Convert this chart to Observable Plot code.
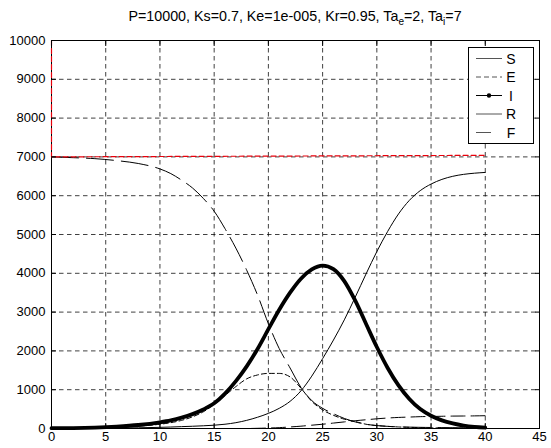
<!DOCTYPE html>
<html>
<head>
<meta charset="utf-8">
<script src="https://cdn.jsdelivr.net/npm/d3@7"></script>
<script src="https://cdn.jsdelivr.net/npm/@observablehq/plot@0.6"></script>
<style>
  html, body { margin: 0; padding: 0; background: #fff; }
  #wrap { position: relative; width: 551px; height: 448px; font-family: "Liberation Sans", Arial, sans-serif; }
  #title { position: absolute; left: 0; width: 590px; top: 9px; text-align: center; font-size: 14.3px; line-height: 14px; color: #000; white-space: nowrap; }
  #title sub { font-size: 10px; vertical-align: -4px; line-height: 0; }
</style>
</head>
<body>
<div id="wrap">
  <div id="title">P=10000, Ks=0.7, Ke=1e-005, Kr=0.95, Ta<sub>e</sub>=2, Ta<sub>i</sub>=7</div>
</div>
<script>
// time samples
const t = [0,2,4,6,8,10,11,12,13,14,15,16,17,18,19,20,21,22,23,24,25,26,27,28,29,30,31,32,33,34,35,36,37,38,39,40];
// series values
const S = [7000,6980,6955,6905,6830,6690,6570,6400,6200,5930,5600,5150,4650,4080,3440,2700,2060,1560,1060,720,520,380,260,170,110,75,55,42,35,30,26,23,20,18,16,15];
const E = [0,5,15,30,60,110,150,210,300,430,620,850,1080,1280,1380,1420,1420,1330,1040,700,480,340,240,180,110,75,55,40,30,22,16,12,9,7,5,4];
const I = [8,12,25,50,90,160,210,280,370,490,650,900,1220,1600,2050,2560,3060,3500,3860,4100,4200,4110,3800,3300,2700,2100,1560,1110,760,500,330,210,130,75,40,20];
const R = [0,2,5,10,18,30,38,48,58,70,85,110,150,210,290,390,520,700,970,1350,1800,2280,2800,3380,3980,4560,5080,5530,5880,6130,6300,6420,6500,6550,6580,6600];
const F = [0,0,0,0,0,0,0,0,0,0,0,0,0,0,5,12,22,40,60,85,110,140,170,200,225,250,270,285,295,305,310,315,320,322,325,330];
// total line (red dashed)
const tN = [0,0,40];
const N = [10000,7000,7040];
// ticks
const xTicks = [0,5,10,15,20,25,30,35,40,45];
const yTicks = [0,1000,2000,3000,4000,5000,6000,7000,8000,9000,10000];
const legendNames = ["S","E","I","R","F"];

const rows = (vals) => t.map((tt, i) => ({t: tt, v: vals[i]}));
const redRows = tN.map((tt, i) => ({t: tt, v: N[i]}));

const gridStyle = {stroke: "#000", strokeOpacity: 0.75, strokeWidth: 1, strokeDasharray: "4.5,3.5"};
const noText = () => "";
const fmt = d3.format("d");

const plot = Plot.plot({
  width: 551,
  height: 448,
  marginLeft: 51,
  marginRight: 12,
  marginTop: 40,
  marginBottom: 20,
  style: {fontFamily: '"Liberation Sans", Arial, sans-serif', fontSize: "13px", background: "transparent", color: "#000"},
  x: {domain: [0, 45]},
  y: {domain: [0, 10000]},
  marks: [
    Plot.gridX(xTicks.filter(d => d > 0 && d < 45), gridStyle),
    Plot.gridY(yTicks.filter(d => d > 0 && d < 10000), gridStyle),
    Plot.line(rows(S), {x: "t", y: "v", stroke: "#000", strokeWidth: 1, strokeDasharray: "27,8", curve: "monotone-x"}),
    Plot.line(rows(E), {x: "t", y: "v", stroke: "#000", strokeWidth: 1, strokeDasharray: "5,3", curve: "monotone-x"}),
    Plot.line(rows(R), {x: "t", y: "v", stroke: "#000", strokeWidth: 1, curve: "monotone-x"}),
    Plot.line(rows(F), {x: "t", y: "v", stroke: "#000", strokeWidth: 1, strokeDasharray: "14,6", curve: "monotone-x"}),
    Plot.line(rows(I), {x: "t", y: "v", stroke: "#000", strokeWidth: 3.8, curve: "monotone-x"}),
    Plot.frame({stroke: "#000", strokeWidth: 1}),
    Plot.line(redRows, {x: "t", y: "v", stroke: "#e8000b", strokeWidth: 1.2, strokeDasharray: "5,3"}),
    // tick labels
    Plot.axisX(xTicks, {anchor: "bottom", tickSize: 0, tickPadding: 3, label: null, tickFormat: fmt}),
    Plot.axisY(yTicks, {anchor: "left", tickSize: 0, tickPadding: 6, label: null, tickFormat: fmt}),
    // inward tick marks
    Plot.axisX(xTicks, {anchor: "bottom", tickSize: 5, dy: -5, tickFormat: noText, label: null}),
    Plot.axisX(xTicks, {anchor: "top", tickSize: 5, dy: 5, tickFormat: noText, label: null}),
    Plot.axisY(yTicks, {anchor: "left", tickSize: 5, dx: 5, tickFormat: noText, label: null}),
    Plot.axisY(yTicks, {anchor: "right", tickSize: 5, dx: -5, tickFormat: noText, label: null})
  ]
});

document.getElementById("wrap").appendChild(plot);

// legend box (layout only)
const svg = d3.select(plot);
const lg = svg.append("g").attr("font-family", '"Liberation Sans", Arial, sans-serif').attr("font-size", "14px");
lg.append("rect").attr("x", 468.5).attr("y", 47.5).attr("width", 65).attr("height", 96)
  .attr("fill", "#fff").attr("stroke", "#000").attr("stroke-width", 1);
const ys = [58.5, 77, 95.5, 114, 132.5];
const dashes = [null, "5,3", null, null, null];
legendNames.forEach((name, i) => {
  const y = ys[i];
  const x2 = name === "F" ? 491 : 502;
  lg.append("line").attr("x1", 476).attr("x2", x2).attr("y1", y).attr("y2", y)
    .attr("stroke", "#555").attr("stroke-width", 1).attr("stroke-dasharray", dashes[i]);
  if (name === "I") {
    lg.append("line").attr("x1", 476).attr("x2", 502).attr("y1", y).attr("y2", y).attr("stroke", "#000");
    lg.append("circle").attr("cx", 489).attr("cy", y).attr("r", 2.2).attr("fill", "#000");
  }
  lg.append("text").attr("x", 511).attr("y", y).attr("dy", "0.36em").attr("fill", "#000").text(name);
});
</script>
</body>
</html>
